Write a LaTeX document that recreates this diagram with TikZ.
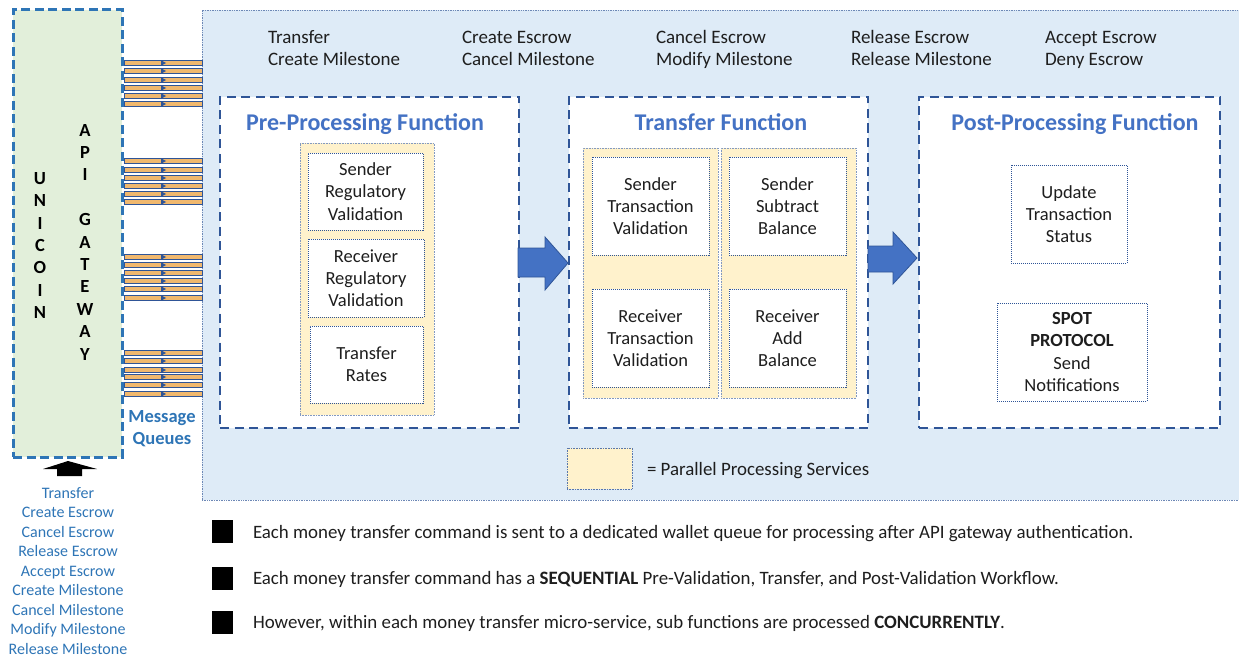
\documentclass[tikz,border=0pt]{standalone}
\usepackage{fontspec}
\setmainfont{Carlito}
\definecolor{gwfill}{RGB}{226,239,218}
\definecolor{gwline}{RGB}{46,117,182}
\definecolor{panel}{RGB}{222,235,247}
\definecolor{fnline}{RGB}{47,85,151}
\definecolor{head}{RGB}{68,114,196}
\definecolor{para}{RGB}{255,242,204}
\definecolor{qfill}{RGB}{240,184,110}
\definecolor{cmd}{RGB}{46,117,182}
\definecolor{txt}{RGB}{30,30,30}
\newcommand\myfs[2]{\fontsize{#1}{#2}\selectfont}
\begin{document}
\begin{tikzpicture}[x=1pt,y=-1pt,
  every node/.style={inner sep=0pt, outer sep=0pt},
  gwbox/.style={draw=gwline, fill=gwfill, line width=3pt, dash pattern=on 9pt off 4.5pt},
  panelbox/.style={draw=fnline!70, fill=panel, line width=0.7pt, densely dotted},
  fnbox/.style={draw=fnline, fill=white, line width=2.5pt, dash pattern=on 9pt off 5.5pt},
  parbox/.style={draw=fnline!60, fill=para, line width=0.6pt, densely dotted},
  subbox/.style={draw=fnline, fill=white, line width=1pt, densely dotted, align=center, text=txt, font=\myfs{18.5}{22.2}},
  heading/.style={font=\myfs{24}{28}\bfseries, text=head, anchor=base},
  toplabel/.style={font=\myfs{19}{22}, text=txt, align=left, anchor=west},
  blockarrow/.style={fill=head, draw=fnline, line width=0.8pt},
  bulletsq/.style={fill=black, minimum width=21pt, minimum height=23pt},
  bullettext/.style={font=\myfs{18.9}{22}, text=txt, anchor=base west},
  gwletters/.style={font=\myfs{18.5}{22.4}\bfseries, align=center, text=black},
]
\useasboundingbox (0,0) rectangle (1239,658);

% blue panel
\node[panelbox, anchor=north west, minimum width=1042pt, minimum height=490pt] (panel) at (202,10) {};

% gateway
\node[gwbox, anchor=north west, minimum width=109pt, minimum height=447pt] (gw) at (13,10) {};
\node[gwletters] (unicoin) at (40,245.5) {U\\N\\I\\C\\O\\I\\N};
\node[gwletters] (apigw) at (85,242) {A\\P\\I\\[22.4pt]G\\A\\T\\E\\W\\A\\Y};

% message queues
\foreach \y in {63,71,80,88,96,104,161,170,178,186,194,202,257,265,273,281,289,298,353,361,370,377,385,394}{
  \draw[fnline, line width=0.9pt, fill=qfill] (124,\y-2.6) rectangle (202,\y+2.6);
  \draw[fnline, line width=1.2pt] (162,\y-2.6) -- (162,\y+2.6);
  \fill[fnline] (162,\y-2.2) -- (166,\y) -- (162,\y+2.2) -- cycle;
}
\node[font=\myfs{18.5}{22}\bfseries, text=cmd, align=center] (mq) at (162,429) {Message\\Queues};

% input arrow and commands
\fill[black] (68,461) -- (97,469) -- (82,469) -- (82,476) -- (57,476) -- (57,469) -- (43,469) -- cycle;
\node[font=\myfs{16}{19.5}, text=cmd, align=center] (cmds) at (68,571)
  {Transfer\\Create Escrow\\Cancel Escrow\\Release Escrow\\Accept Escrow\\Create Milestone\\Cancel Milestone\\Modify Milestone\\Release Milestone};

% top labels
\node[toplabel] (t1) at (268,50) {\strut Transfer\\\strut Create Milestone};
\node[toplabel] (t2) at (462,50) {\strut Create Escrow\\\strut Cancel Milestone};
\node[toplabel] (t3) at (656,50) {\strut Cancel Escrow\\\strut Modify Milestone};
\node[toplabel] (t4) at (851,50) {\strut Release Escrow\\\strut Release Milestone};
\node[toplabel] (t5) at (1045,50) {\strut Accept Escrow\\\strut Deny Escrow};

% function boxes
\node[fnbox, anchor=north west, minimum width=299pt, minimum height=331pt] (pre) at (220,97) {};
\node[fnbox, anchor=north west, minimum width=299pt, minimum height=331pt] (trf) at (569,97) {};
\node[fnbox, anchor=north west, minimum width=301pt, minimum height=331pt] (post) at (919,97) {};

\node[heading] (preh) at (365,131) {Pre-Processing Function};
\node[heading] (trfh) at (721,131) {Transfer Function};
\node[heading] (posth) at (1075,131) {Post-Processing Function};

% pre-processing
\node[parbox, anchor=north west, minimum width=134pt, minimum height=272pt] (prep) at (300,143) {};
\node[subbox, minimum width=115pt, minimum height=77pt] (s1) at (365.5,191.5) {Sender\\Regulatory\\Validation};
\node[subbox, minimum width=116pt, minimum height=78pt] (s2) at (366,278) {Receiver\\Regulatory\\Validation};
\node[subbox, minimum width=113pt, minimum height=77pt] (s3) at (366.5,364.5) {Transfer\\Rates};

% transfer
\node[parbox, anchor=north west, minimum width=135pt, minimum height=250pt] (trpl) at (583,148) {};
\node[parbox, anchor=north west, minimum width=135pt, minimum height=250pt] (trpr) at (721,148) {};
\node[subbox, minimum width=117pt, minimum height=98pt] (tv1) at (650.5,206) {Sender\\Transaction\\Validation};
\node[subbox, minimum width=117pt, minimum height=98pt] (tv2) at (650.5,338) {Receiver\\Transaction\\Validation};
\node[subbox, minimum width=117pt, minimum height=98pt] (tb1) at (787.5,206) {Sender\\Subtract\\Balance};
\node[subbox, minimum width=117pt, minimum height=98pt] (tb2) at (787.5,338) {Receiver\\Add\\Balance};

% post
\node[subbox, minimum width=116pt, minimum height=98pt] (p1) at (1069,214) {Update\\Transaction\\Status};
\node[subbox, minimum width=150pt, minimum height=98pt] (p2) at (1072,352) {\textbf{SPOT}\\\textbf{PROTOCOL}\\Send\\Notifications};

% block arrows
\draw[blockarrow] (518,248) -- (545,248) -- (545,237) -- (568,263) -- (545,290) -- (545,277) -- (518,277) -- cycle;
\draw[blockarrow] (868,246) -- (893,246) -- (893,232) -- (917,258) -- (893,284) -- (893,272) -- (868,272) -- cycle;

% legend
\node[parbox, draw=fnline!80, anchor=north west, minimum width=65pt, minimum height=41pt] (leg) at (567,448) {};
\node[font=\myfs{18.9}{22}, text=txt, anchor=base west] (legt) at (647,475) {= Parallel Processing Services};

% bullets
\node[bulletsq] (b1) at (222.5,531.5) {};
\node[bulletsq] (b2) at (222.5,578) {};
\node[bulletsq] (b3) at (222.5,622) {};
\node[bullettext] (bt1) at (253,538) {Each money transfer command is sent to a dedicated wallet queue for processing after API gateway authentication.};
\node[bullettext] (bt2) at (253,584) {Each money transfer command has a \textbf{SEQUENTIAL} Pre-Validation, Transfer, and Post-Validation Workflow.};
\node[bullettext] (bt3) at (253,628) {However, within each money transfer micro-service, sub functions are processed \textbf{CONCURRENTLY}.};
\end{tikzpicture}
\end{document}
